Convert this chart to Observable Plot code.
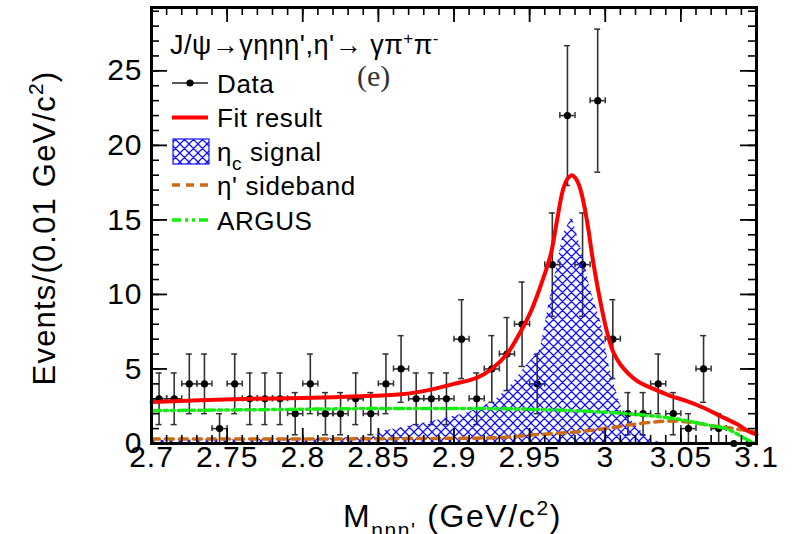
<!DOCTYPE html>
<html>
<head>
<meta charset="utf-8">
<script src="https://cdn.jsdelivr.net/npm/d3@7"></script>
<script src="https://cdn.jsdelivr.net/npm/@observablehq/plot@0.6"></script>
<style>
  html, body { margin: 0; padding: 0; background: #fff; }
  svg { display: block; }
</style>
</head>
<body>
<div id="chart"></div>
<script>
// ---- data ----
const binCenters = [2.705, 2.715, 2.725, 2.735, 2.745, 2.755, 2.765, 2.775, 2.785, 2.795,
                    2.805, 2.815, 2.825, 2.835, 2.845, 2.855, 2.865, 2.875, 2.885, 2.895,
                    2.905, 2.915, 2.925, 2.935, 2.945, 2.955, 2.965, 2.975, 2.985, 2.995,
                    3.005, 3.015, 3.025, 3.035, 3.045, 3.055, 3.065, 3.075, 3.085, 3.095];
const counts = [3, 3, 4, 4, 1, 4, 3, 3, 3, 2,
                4, 2, 2, 3, 2, 4, 5, 3, 3, 3,
                7, 3, 5, 6, 8, 4, 12, 22, 12, 23,
                7, 2, 2, 4, 2, 1, 5, 1, 0, 0];
const binHalfWidth = 0.005;

// Fit result (red)
const fitX = [2.700, 2.732, 2.765, 2.799, 2.832, 2.865, 2.884, 2.898, 2.915, 2.925, 2.935, 2.944, 2.951, 2.957,
              2.964, 2.968, 2.972, 2.975, 2.978, 2.981, 2.984, 2.988, 2.992, 2.997, 3.001, 3.005, 3.010, 3.021,
              3.032, 3.043, 3.054, 3.065, 3.076, 3.087, 3.095, 3.100];
const fitY = [2.78, 2.9, 3.0, 3.05, 3.15, 3.3, 3.6, 3.95, 4.4, 5.0, 6.0, 7.5, 8.9, 10.5,
              12.7, 14.9, 17.0, 17.75, 18.0, 17.7, 16.9, 14.9, 12.2, 9.4, 7.55, 6.2, 5.3, 4.2,
              3.66, 3.2, 2.85, 2.4, 1.85, 1.3, 0.8, 0.6];

// eta_c signal (blue hatched)
const sigX = [2.700, 2.760, 2.820, 2.848, 2.851, 2.865, 2.886, 2.909, 2.926, 2.937, 2.946, 2.957, 2.964, 2.968,
              2.972, 2.978, 2.985, 2.990, 2.997, 3.003, 3.010, 3.019, 3.028, 3.036, 3.045];
const sigY = [0.2, 0.25, 0.35, 0.45, 0.8, 1.05, 1.5, 2.05, 2.8, 3.8, 5.0, 6.3, 10.0, 11.8,
              14.0, 15.2, 12.7, 10.4, 8.2, 5.0, 2.6, 1.3, 0.4, 0.05, 0];

// eta' sideband (orange dashed)
const sbX = [2.700, 2.800, 2.900, 2.930, 2.955, 2.978, 3.000, 3.020, 3.040, 3.055, 3.070, 3.085, 3.100];
const sbY = [0.3, 0.3, 0.35, 0.4, 0.6, 0.75, 1.0, 1.3, 1.5, 1.45, 1.2, 1.0, 0.75];

// ARGUS (green dash-dot)
const argX = [2.700, 2.750, 2.800, 2.850, 2.900, 2.950, 3.000, 3.020, 3.040, 3.050, 3.060, 3.070, 3.080, 3.087, 3.093, 3.097, 3.100];
const argY = [2.2, 2.25, 2.3, 2.35, 2.35, 2.3, 2.1, 1.95, 1.75, 1.6, 1.4, 1.2, 1.0, 0.65, 0.3, 0.1, 0];

// axes
const xMajorTicks = [2.7, 2.75, 2.8, 2.85, 2.9, 2.95, 3.0, 3.05, 3.1];
const xTickLabels = ["2.7", "2.75", "2.8", "2.85", "2.9", "2.95", "3", "3.05", "3.1"];
const yMajorTicks = [0, 5, 10, 15, 20, 25];
const yTickLabels = ["0", "5", "10", "15", "20", "25"];
const xDomain = [2.7, 3.1];
const yDomain = [0, 29.25];

// ---- layout ----
const W = 796, H = 534;
const mL = 151, mR = 40, mT = 7, mB = 91;
const plotW = W - mL - mR, plotH = H - mT - mB;
const FONT = "'Liberation Sans', Arial, Helvetica, sans-serif";

const data = binCenters.map((x, i) => ({x, n: counts[i]}));
const dataPos = data.filter(d => d.n > 0);
const fit = fitX.map((x, i) => ({x, y: fitY[i]}));
const sig = sigX.map((x, i) => ({x, y: sigY[i]}));
const sb = sbX.map((x, i) => ({x, y: sbY[i]}));
const arg = argX.map((x, i) => ({x, y: argY[i]}));

const xMinor = d3.range(0, 41).map(i => +(xDomain[0] + i * 0.01).toFixed(3));
const yMinor = d3.range(0, 30).map(i => i);
const xTickData = xMajorTicks.map((v, i) => ({v, label: xTickLabels[i]}));
const yTickData = yMajorTicks.map((v, i) => ({v, label: yTickLabels[i]}));

const pxPerX = plotW / (xDomain[1] - xDomain[0]);
const pxPerY = plotH / (yDomain[1] - yDomain[0]);
const capX = 3 / pxPerX, capY = 3 / pxPerY;
const err = d => Math.sqrt(d.n);
const EB = "#333";

const svg = Plot.plot({
  width: W, height: H,
  marginLeft: mL, marginRight: mR, marginTop: mT, marginBottom: mB,
  x: {domain: xDomain, axis: null},
  y: {domain: yDomain, axis: null},
  style: {fontFamily: FONT, background: "white", overflow: "visible"},
  marks: [
    // data error bars
    Plot.ruleX(dataPos, {x: "x", y1: d => d.n - err(d), y2: d => d.n + err(d), stroke: EB, strokeWidth: 1.6}),
    Plot.ruleY(dataPos, {y: d => d.n + err(d), x1: d => d.x - capX, x2: d => d.x + capX, stroke: EB, strokeWidth: 1.5}),
    Plot.ruleY(dataPos, {y: d => d.n - err(d), x1: d => d.x - capX, x2: d => d.x + capX, stroke: EB, strokeWidth: 1.5}),
    Plot.ruleY(dataPos, {y: "n", x1: d => d.x - binHalfWidth, x2: d => d.x + binHalfWidth, stroke: EB, strokeWidth: 1.6}),
    Plot.ruleX(dataPos, {x: d => d.x - binHalfWidth, y1: d => d.n - capY, y2: d => d.n + capY, stroke: EB, strokeWidth: 1.5}),
    Plot.ruleX(dataPos, {x: d => d.x + binHalfWidth, y1: d => d.n - capY, y2: d => d.n + capY, stroke: EB, strokeWidth: 1.5}),
    Plot.dot(data, {x: "x", y: "n", r: 3.6, fill: "black", stroke: "none"}),
    // components
    Plot.areaY(sig, {x: "x", y: "y", fill: "url(#etacHatch)", curve: "linear"}),
    Plot.line(sb, {x: "x", y: "y", stroke: "#cc6a14", strokeWidth: 3.5, strokeDasharray: "8,6", curve: "catmull-rom"}),
    Plot.line(arg, {x: "x", y: "y", stroke: "#11f011", strokeWidth: 3.5, strokeDasharray: "9,4,3,4,3,4", curve: "catmull-rom"}),
    Plot.line(fit, {x: "x", y: "y", stroke: "#ff0000", strokeWidth: 4, curve: "catmull-rom"}),
    // inner ticks (ROOT style, all four sides)
    Plot.tickX(xMinor, {x: d => d, insetTop: plotH - 8, stroke: "black", strokeWidth: 1.6}),
    Plot.tickX(xMinor, {x: d => d, insetBottom: plotH - 8, stroke: "black", strokeWidth: 1.6}),
    Plot.tickX(xMajorTicks, {x: d => d, insetTop: plotH - 15, stroke: "black", strokeWidth: 1.8}),
    Plot.tickX(xMajorTicks, {x: d => d, insetBottom: plotH - 15, stroke: "black", strokeWidth: 1.8}),
    Plot.tickY(yMinor, {y: d => d, insetRight: plotW - 8, stroke: "black", strokeWidth: 1.6}),
    Plot.tickY(yMinor, {y: d => d, insetLeft: plotW - 8, stroke: "black", strokeWidth: 1.6}),
    Plot.tickY(yMajorTicks, {y: d => d, insetRight: plotW - 16, stroke: "black", strokeWidth: 1.8}),
    Plot.tickY(yMajorTicks, {y: d => d, insetLeft: plotW - 16, stroke: "black", strokeWidth: 1.8}),
    Plot.frame({stroke: "black", strokeWidth: 3}),
    // tick labels
    Plot.text(xTickData, {x: "v", text: "label", frameAnchor: "bottom", dy: 23, fontSize: 30, fill: "black"}),
    Plot.text(yTickData, {y: "v", text: "label", frameAnchor: "left", textAnchor: "end", dx: -9, fontSize: 30, fill: "black"})
  ]
});

svg.querySelectorAll("text").forEach(t => t.style.letterSpacing = "1px");

const s = d3.select(svg);
// hatch pattern
const defs = s.insert("defs", ":first-child");
const pat = defs.append("pattern").attr("id", "etacHatch").attr("patternUnits", "userSpaceOnUse")
  .attr("width", 9).attr("height", 9);
pat.append("path").attr("d", "M0,0L9,9M9,0L0,9M-1,8L1,10M8,-1L10,1").attr("stroke", "#1010ff").attr("stroke-width", 1.25).attr("fill", "none");

// helper for rich text with sub/superscripts
function richText(g, x, y, parts, attrs) {
  const t = g.append("text").attr("x", x).attr("y", y);
  Object.entries(attrs).forEach(([k, v]) => t.attr(k, v));
  let shift = 0;
  parts.forEach(p => {
    const ts = t.append("tspan").text(p.t);
    const target = p.sup ? -p.sup : (p.sub ? p.sub : 0);
    if (target !== shift) { ts.attr("dy", target - shift); shift = target; }
    if (p.size) ts.attr("font-size", p.size);
  });
  return t;
}

const ann = s.append("g").attr("font-family", FONT).attr("fill", "black").attr("text-anchor", "start");

// title in frame
richText(ann, 170, 54, [
  {t: "J/ψ→γηηη',η'→ γπ"}, {t: "+", sup: 10, size: 17}, {t: "π"}, {t: "-", sup: 10, size: 17}
], {"font-size": 27, "letter-spacing": "0.5px"});
ann.append("text").attr("x", 357).attr("y", 86).attr("font-family", "'Liberation Serif', 'Times New Roman', serif")
  .attr("font-size", 30).attr("fill", "#333").text("(e)");

// legend
const lx0 = 172, lx1 = 208, tx = 217;
const rows = [83, 117.5, 151.5, 185, 220];
const leg = ann.append("g");
// Data
leg.append("line").attr("x1", lx0).attr("x2", lx1).attr("y1", rows[0]).attr("y2", rows[0]).attr("stroke", "#222").attr("stroke-width", 1.5);
leg.append("circle").attr("cx", (lx0 + lx1) / 2).attr("cy", rows[0]).attr("r", 3.6).attr("fill", "black");
// Fit
leg.append("line").attr("x1", lx0).attr("x2", lx1).attr("y1", rows[1]).attr("y2", rows[1]).attr("stroke", "#ff0000").attr("stroke-width", 4);
// signal box
leg.append("rect").attr("x", 173).attr("y", rows[2] - 12.5).attr("width", 36).attr("height", 25)
  .attr("fill", "url(#etacHatch)").attr("stroke", "#1010ff").attr("stroke-width", 1.2);
// sideband
leg.append("line").attr("x1", lx0).attr("x2", lx1).attr("y1", rows[3]).attr("y2", rows[3]).attr("stroke", "#cc6a14").attr("stroke-width", 3.5).attr("stroke-dasharray", "8,6");
// argus
leg.append("line").attr("x1", lx0).attr("x2", lx1).attr("y1", rows[4]).attr("y2", rows[4]).attr("stroke", "#11f011").attr("stroke-width", 3.5).attr("stroke-dasharray", "9,4,3,4,3,4");

const legAttrs = {"font-size": 26, "letter-spacing": "0.6px"};
richText(leg, tx, rows[0] + 9.5, [{t: "Data"}], legAttrs);
richText(leg, tx, rows[1] + 9.5, [{t: "Fit result"}], legAttrs);
richText(leg, tx, rows[2] + 9.5, [{t: "η"}, {t: "c", sub: 9, size: 19}, {t: " signal", sub: 0}], legAttrs);
richText(leg, tx, rows[3] + 9.5, [{t: "η' sideband"}], legAttrs);
richText(leg, tx, rows[4] + 9.5, [{t: "ARGUS"}], legAttrs);

// axis titles
richText(ann, 0, 0, [{t: "Events/(0.01 GeV/c"}, {t: "2", sup: 12, size: 21}, {t: ")", sup: 0}],
  {"font-size": 31, "letter-spacing": "1.2px", "text-anchor": "middle", "transform": "translate(55,228) rotate(-90)"});
richText(ann, 343, 527, [{t: "M"}, {t: "ηηη'", sub: 10, size: 21}, {t: " (GeV/c", sub: 0}, {t: "2", sup: 12, size: 21}, {t: ")", sup: 0}],
  {"font-size": 32, "letter-spacing": "1.6px"});

document.getElementById("chart").appendChild(svg);
</script>
</body>
</html>
